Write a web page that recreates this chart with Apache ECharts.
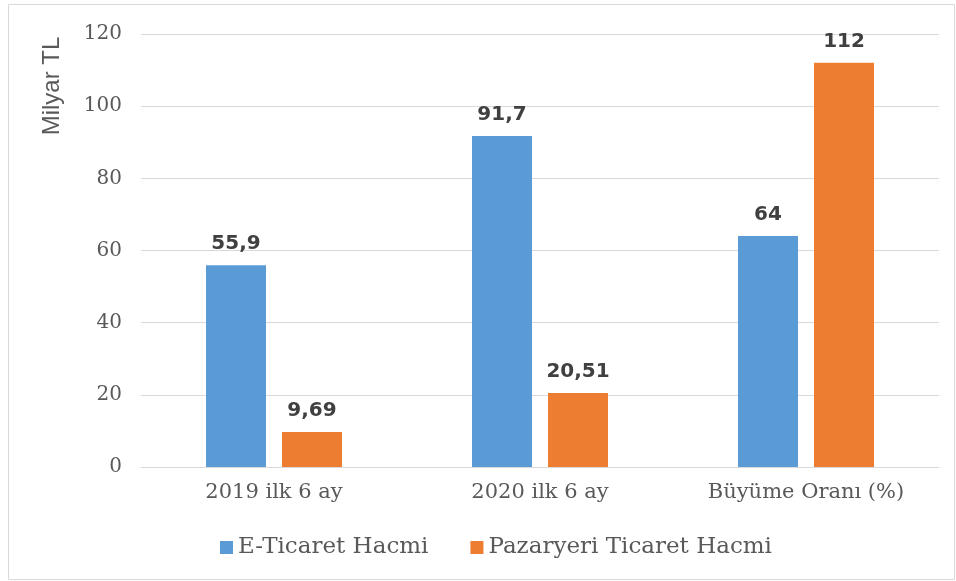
<!DOCTYPE html>
<html><head><meta charset="utf-8">
<script src="https://cdn.jsdelivr.net/npm/echarts@6/dist/echarts.min.js"></script>
<style>html,body{margin:0;padding:0;background:#fff}#c{width:956px;height:581px}</style>
</head><body><div id="c"></div>
<script>
const categories = ['2019 ilk 6 ay', '2020 ilk 6 ay', 'Büyüme Oranı (%)'];
const eTicaret = [55.9, 91.7, 64];
const pazaryeri = [9.69, 20.51, 112];
const seriesNames = ['E-Ticaret Hacmi', 'Pazaryeri Ticaret Hacmi'];
const yTicks = [0, 20, 40, 60, 80, 100, 120];

const chart = echarts.init(document.getElementById('c'), null, {renderer: 'canvas'});
const lbl = {
  show: true, position: 'top', distance: 11,
  fontFamily: 'DejaVu Sans', fontWeight: 'bold', fontSize: 20, color: '#404040',
  formatter: p => String(p.value).replace('.', ',')
};
chart.setOption({
  animation: false,
  graphic: [
    {type: 'rect', shape: {x: 8.5, y: 4.5, width: 946, height: 575},
     style: {fill: 'none', stroke: '#d9d9d9', lineWidth: 1}, z: -1},
    {type: 'text', x: 52, y: 86, rotation: Math.PI / 2,
     style: {text: 'Milyar TL', font: '24px "Liberation Sans"', fill: '#595959',
             textAlign: 'center', textVerticalAlign: 'middle'}}
  ],
  grid: {left: 141, right: 17, top: 34, bottom: 114},
  legend: {
    data: seriesNames, left: 215, top: 531, itemWidth: 13, itemHeight: 13,
    itemGap: 42, icon: 'rect',
    textStyle: {fontFamily: 'DejaVu Serif', fontSize: 23, color: '#595959'}
  },
  xAxis: {
    type: 'category', data: categories,
    axisLine: {lineStyle: {color: '#d9d9d9', width: 1}},
    axisTick: {show: false},
    axisLabel: {fontFamily: 'DejaVu Serif', fontSize: 21, color: '#595959', margin: 15}
  },
  yAxis: {
    type: 'value', min: 0, max: 120, interval: 20,
    axisLine: {show: false}, axisTick: {show: false},
    splitLine: {lineStyle: {color: '#d9d9d9', width: 1}},
    axisLabel: {fontFamily: 'DejaVu Serif', fontSize: 20, color: '#595959', margin: 19,
      formatter: v => yTicks.includes(v) ? String(v) : ''}
  },
  series: [
    {name: seriesNames[0], type: 'bar', data: eTicaret, barWidth: 60, barGap: '26.7%',
     itemStyle: {color: '#5B9BD5'}, label: lbl},
    {name: seriesNames[1], type: 'bar', data: pazaryeri, barWidth: 60,
     itemStyle: {color: '#ED7D31'}, label: lbl}
  ]
});
</script></body></html>
